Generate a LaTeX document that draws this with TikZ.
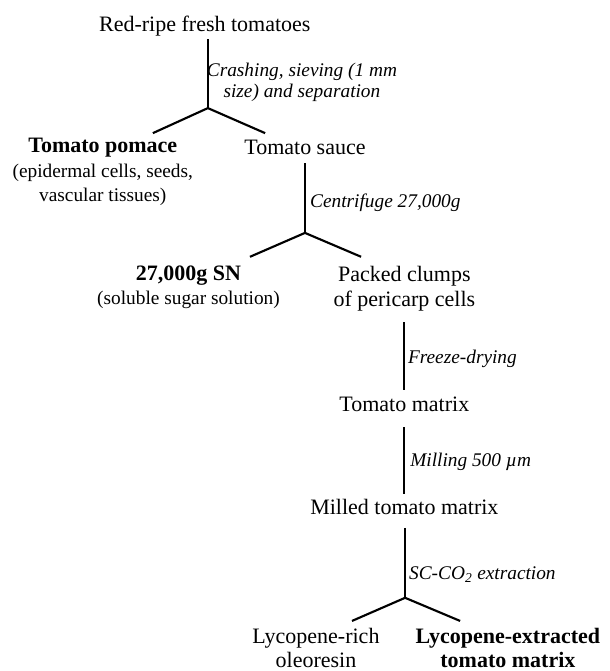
\documentclass[tikz,border=0pt]{standalone}
\usepackage{fontspec}
\setmainfont{Liberation Serif}
\newcommand{\sidefont}{\fontsize{14.5}{18}\selectfont}

\begin{document}
\begin{tikzpicture}[
    flow/.style={line width=1.6pt},
    stage/.style={inner sep=2pt, anchor=base, align=center, font=\fontsize{16.5}{18.5}\selectfont},
    proc/.style={inner sep=0pt, anchor=base west, align=center, font=\fontsize{14.5}{15.75}\selectfont\itshape}
]
    \useasboundingbox (0,0) rectangle (16.08,-17.69);

    % Crushing step
    \node[stage] (raw) at (5.40,-0.84) {Red-ripe fresh tomatoes};
    \coordinate (j1) at (5.48,-2.85);
    \coordinate (a) at (4.03,-3.51);
    \coordinate (b) at (6.99,-3.51);
    \draw[flow] (raw.south -| j1) -- (j1);
    \draw[flow] (a) -- (j1) -- (b);
    \node[proc, anchor=base] (crush) at (7.96,-2.56) {Crashing, sieving (1 mm\\size) and separation};

    \node[stage] (pomace) at (2.71,-5.32) {\textbf{Tomato pomace}\\{\sidefont (epidermal cells, seeds,}\\{\sidefont vascular tissues)}};
    \node[stage] (sauce) at (8.04,-4.06) {Tomato sauce};

    % Centrifuge step
    \coordinate (j2) at (8.04,-6.14);
    \coordinate (c) at (6.59,-6.77);
    \coordinate (d) at (9.52,-6.77);
    \draw[flow, shorten <=4.5pt] (sauce.south) -- (j2);
    \draw[flow] (c) -- (j2) -- (d);
    \node[proc] (spin) at (8.17,-5.48) {Centrifuge 27,000g};

    \node[stage] (sn) at (4.97,-8.04) {\textbf{27,000g SN}\\{\sidefont (soluble sugar solution)}};
    \node[stage] (pack) at (10.66,-8.07) {Packed clumps\\of pericarp cells};

    % Drying and milling
    \node[stage] (matrix) at (10.66,-10.86) {Tomato matrix};
    \node[stage] (milled) at (10.66,-13.57) {Milled tomato matrix};
    \draw[flow, shorten <=6.4pt, shorten >=3pt] (pack.south) -- (matrix.north);
    \draw[flow, shorten <=9pt, shorten >=2.25pt] (matrix.south) -- (milled.north);
    \node[proc] (dry) at (10.75,-9.57) {Freeze-drying};
    \node[proc] (mill) at (10.81,-12.31) {Milling 500 µm};

    % Extraction step
    \coordinate (j3) at (10.68,-15.76);
    \coordinate (e) at (9.28,-16.37);
    \coordinate (f) at (12.13,-16.37);
    \draw[flow, shorten <=7.5pt] (milled.south -| j3) -- (j3);
    \draw[flow] (e) -- (j3) -- (f);
    \node[proc] (sfe) at (10.78,-15.29) {SC-CO\textsubscript{2} extraction};

    \node[stage] (rich) at (8.33,-17.61) {Lycopene-rich\\oleoresin};
    \node[stage, font=\fontsize{16.5}{18.5}\selectfont\bfseries] (spent) at (13.39,-17.61) {Lycopene-extracted\\tomato matrix};
\end{tikzpicture}
\end{document}
